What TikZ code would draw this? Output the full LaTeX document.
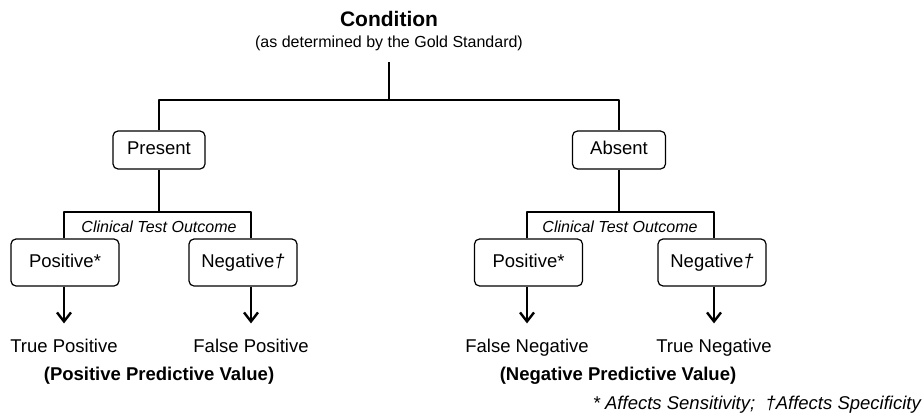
\documentclass[tikz,border=0pt]{standalone}
\usepackage{fontspec}
\setmainfont{Liberation Sans}
\usetikzlibrary{arrows.meta}
\begin{document}
\begin{tikzpicture}[x=1pt,y=-1pt,line join=round,
	box/.style={draw,rounded corners=5pt,line width=1.2pt,minimum height=38pt,text height=13.5pt,text depth=4pt,font=\fontsize{18.5}{22}\selectfont},
	outcome/.style={box,minimum width=108pt,minimum height=47pt},
	lbl/.style={anchor=base,inner sep=0pt,font=\fontsize{18.5}{22}\selectfont},
	tree/.style={line width=1.4pt},
	stem/.style={line width=2pt},
	arr/.style={line width=2.4pt,-{Straight Barb[length=9pt,width=14pt]},shorten >=15pt}]
	\useasboundingbox (0,0) rectangle (923,415);
	%Condition and gold standard
	\node[lbl,font=\fontsize{21}{25}\selectfont\bfseries] (cond) at (389,27) {Condition};
	\node[lbl,font=\fontsize{16}{19}\selectfont] (gold) at (389,47) {(as determined by the Gold Standard)};
	\coordinate (stem) at (389,62);
	\coordinate (split) at (389,100);
	\draw[stem] (stem) -- (split);
	%Present / Absent
	\node[box,minimum width=92pt] (present) at (159,150) {Present};
	\node[box,minimum width=93pt] (absent) at (619,150) {Absent};
	\draw[tree] (present.north) |- (split) -| (absent.north);
	\coordinate (pbr) at (159,212);
	\coordinate (abr) at (619,212);
	\draw[stem] (present.south) -- (pbr);
	\draw[stem] (absent.south) -- (abr);
	\node[lbl,font=\fontsize{16}{19}\selectfont\itshape] (pcto) at (159,232) {Clinical Test Outcome};
	\node[lbl,font=\fontsize{16}{19}\selectfont\itshape] (acto) at (620,232) {Clinical Test Outcome};
	%Test outcomes
	\node[outcome] (ppos) at (65,262.5) {Positive*};
	\node[outcome] (pneg) at (243,262.5) {Negative\textit{\textdagger}};
	\node[outcome] (apos) at (528.5,262.5) {Positive*};
	\node[outcome] (aneg) at (712,262.5) {Negative\textit{\textdagger}};
	%Results
	\node[lbl] (tp) at (64,352) {True Positive};
	\node[lbl] (fp) at (251,352) {False Positive};
	\node[lbl] (fn) at (527,352) {False Negative};
	\node[lbl] (tn) at (714,352) {True Negative};
	\node[lbl,font=\fontsize{18.5}{22}\selectfont\bfseries] (ppv) at (159,380) {(Positive Predictive Value)};
	\node[lbl,font=\fontsize{18.5}{22}\selectfont\bfseries] (npv) at (618,380) {(Negative Predictive Value)};
	\draw[tree] (ppos.north -| tp) |- (pbr) -| (pneg.north -| fp);
	\draw[tree] (apos.north -| fn) |- (abr) -| (aneg.north -| tn);
	\foreach \b/\r in {ppos/tp,pneg/fp,apos/fn,aneg/tn}
		\draw[arr] (\b.south -| \r) -- (\r.north);
	%Footnote
	\node[lbl,anchor=base east,font=\fontsize{18.5}{22}\selectfont\itshape] (note) at (921,409) {* Affects Sensitivity;\ \ \textdagger Affects Specificity};
\end{tikzpicture}
\end{document}
